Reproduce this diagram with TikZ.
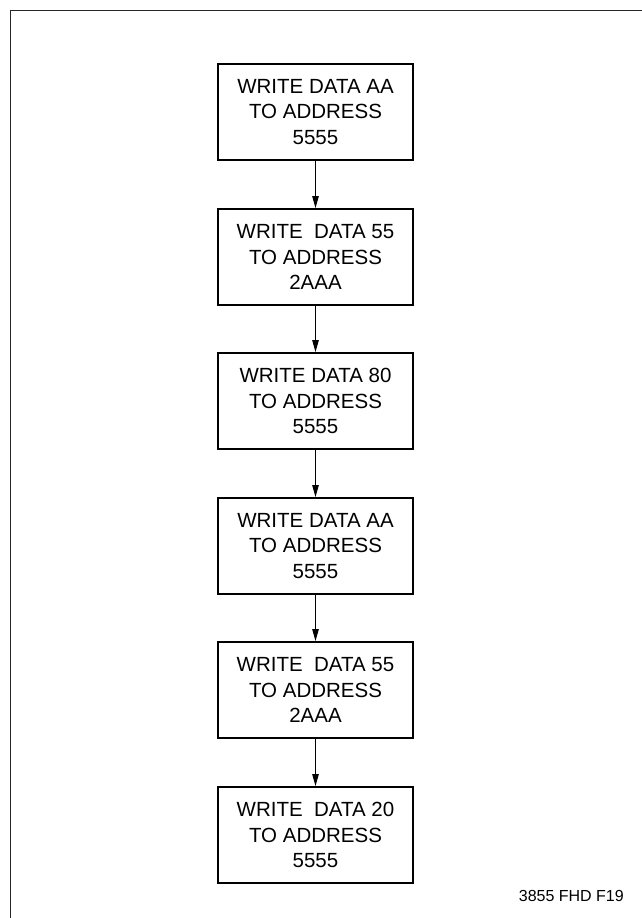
\documentclass[tikz,border=0pt]{standalone}
\usepackage{fontspec}
\setmainfont{Liberation Sans}
\usetikzlibrary{arrows.meta}
\begin{document}
\begin{tikzpicture}[x=1pt,y=-1pt,
  stepbox/.style={draw=black,line width=2pt,minimum width=195pt,minimum height=96pt,
    inner sep=0pt,align=center,font=\fontsize{20.5}{25.8}\selectfont},
  flow/.style={draw=black,line width=1pt,-{Triangle[length=12pt,width=6.5pt]}},
  frameline/.style={draw=black!85,line width=1.6pt}]
\useasboundingbox (0,0) rectangle (642,918);
\draw[frameline] (10.5,930) -- (10.5,10.5) -- (660,10.5);
\node[stepbox] (b1) at (315.5,112) {WRITE DATA AA\\TO ADDRESS\\5555};
\node[stepbox] (b2) at (315.5,257) {WRITE\ \ DATA 55\\TO ADDRESS\\2AAA};
\node[stepbox] (b3) at (315.5,401) {WRITE DATA 80\\TO ADDRESS\\5555};
\node[stepbox] (b4) at (315.5,546) {WRITE DATA AA\\TO ADDRESS\\5555};
\node[stepbox] (b5) at (315.5,690) {WRITE\ \ DATA 55\\TO ADDRESS\\2AAA};
\node[stepbox] (b6) at (315.5,835) {WRITE\ \ DATA 20\\TO ADDRESS\\5555};
\draw[flow] (b1) -- (b2);
\draw[flow] (b2) -- (b3);
\draw[flow] (b3) -- (b4);
\draw[flow] (b4) -- (b5);
\draw[flow] (b5) -- (b6);
\node[anchor=east,inner sep=0pt,font=\fontsize{16}{19}\selectfont] (lbl) at (624,896) {3855 FHD F19};
\end{tikzpicture}
\end{document}
